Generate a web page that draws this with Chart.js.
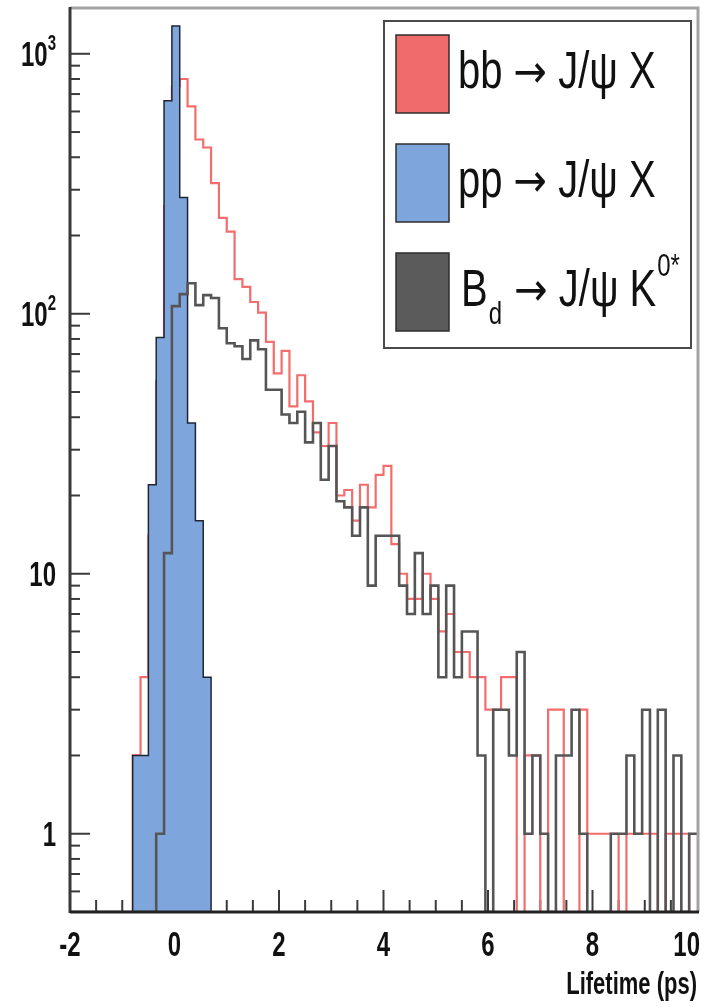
<!DOCTYPE html>
<html>
<head>
<meta charset="utf-8">
<script src="https://cdn.jsdelivr.net/npm/chart.js@4.4.1/dist/chart.umd.min.js"></script>
<style>
  html, body { margin: 0; padding: 0; background: #fff; }
  #wrap { width: 714px; height: 1007px; position: relative; }
</style>
</head>
<body>
<div id="wrap"><canvas id="chart"></canvas></div>
<script>
// lifetime histograms, 80 bins of 0.15 ps between -2 and 10 ps
const binLow = -2
const binWidth = 0.15
const yMin = 0.5
const yMax = 1500

const bbJpsiX = [
  0, 0, 0, 0, 0, 0, 0, 0, 2, 4,
  14, 55, 260, 750, 800, 628, 468, 436, 318, 234,
  207, 136, 127, 111, 101, 78, 59, 72, 44, 58,
  46, 35, 31, 38, 20, 21, 16, 22, 18, 24,
  26, 13, 10, 8, 8, 10, 8, 6, 7, 5,
  5, 4, 4, 3, 3, 4, 4, 0, 2, 2,
  0, 3, 3, 0, 0, 3, 1, 1, 1, 1,
  0, 1, 1, 1, 1, 0, 1, 1, 1, 0,
]

const ppJpsiX = [
  0, 0, 0, 0, 0, 0, 0, 0, 2, 2,
  22, 81, 660, 1280, 280, 38, 16, 4, 0, 0,
  0, 0, 0, 0, 0, 0, 0, 0, 0, 0,
  0, 0, 0, 0, 0, 0, 0, 0, 0, 0,
  0, 0, 0, 0, 0, 0, 0, 0, 0, 0,
  0, 0, 0, 0, 0, 0, 0, 0, 0, 0,
  0, 0, 0, 0, 0, 0, 0, 0, 0, 0,
  0, 0, 0, 0, 0, 0, 0, 0, 0, 0,
]

const bdJpsiK = [
  0, 0, 0, 0, 0, 0, 0, 0, 0, 0,
  0, 1, 12, 107, 119, 131, 108, 118, 115, 88,
  77, 75, 67, 79, 73, 51, 51, 41, 38, 42,
  32, 38, 23, 31, 19, 18, 14, 18, 9, 14,
  14, 14, 9, 7, 12, 7, 9, 4, 9, 4,
  6, 6, 2, 0, 3, 3, 2, 5, 1, 2,
  1, 0, 2, 2, 3, 1, 0, 0, 0, 1,
  1, 2, 1, 3, 0, 3, 0, 2, 0, 1,
]

const seriesNames = ['bb → J/ψ X', 'pp → J/ψ X', 'Bd → J/ψ K0*']
// legend pieces: plain text, subscript (sub) and superscript (sup)
const legendParts = [
  [{ t: 'bb' }, { t: ' → ' }, { t: 'J/ψ X' }],
  [{ t: 'pp' }, { t: ' → ' }, { t: 'J/ψ X' }],
  [{ t: 'B' }, { t: 'd', sub: true }, { t: ' → ' }, { t: 'J/ψ K' }, { t: '0*', sup: true }],
]
// decade labels: mantissa text and exponent text
const yLabels = [
  { v: 1, base: '1', exp: '' },
  { v: 10, base: '10', exp: '' },
  { v: 100, base: '10', exp: '2' },
  { v: 1000, base: '10', exp: '3' },
]
const xTitle = 'Lifetime (ps)'

// step outline: each point holds its bin value until the next edge.
// empty bins sit on the floor of the log axis, like ROOT draws them
function histPoints(counts) {
  const pts = counts.map((c, i) => ({ x: binLow + i * binWidth, y: c > 0 ? c : yMin }))
  pts.push({ x: binLow + counts.length * binWidth, y: pts[pts.length - 1].y })
  return pts
}

// the picture's lettering is tall and narrow, so text gets a vertical stretch
function tallText(ctx, str, x, y, font, align, sy) {
  ctx.save()
  ctx.translate(x, y)
  ctx.scale(1, sy)
  ctx.font = font
  ctx.textAlign = align
  ctx.textBaseline = 'alphabetic'
  ctx.fillText(str, 0, 0)
  const w = ctx.measureText(str).width
  ctx.restore()
  return w
}

function line(ctx, x1, y1, x2, y2) {
  ctx.beginPath()
  ctx.moveTo(x1, y1)
  ctx.lineTo(x2, y2)
  ctx.stroke()
}

const legFont = '40px "Liberation Sans", Arial, sans-serif'
const arrowFont = '40px "DejaVu Sans", sans-serif'
const smallFont = '24px "Liberation Sans", Arial, sans-serif'

function legendLabel(ctx, parts, x, base) {
  parts.forEach((p) => {
    if (p.sub) {
      x += tallText(ctx, p.t, x + 1, base + 18, smallFont, 'left', 1.28) + 2
    } else if (p.sup) {
      x += tallText(ctx, p.t, x + 1, base - 30, smallFont, 'left', 1.28)
    } else if (p.t === ' → ') {
      x += tallText(ctx, ' ', x, base, legFont, 'left', 1.28)
      x += tallText(ctx, '→', x, base - 1, arrowFont, 'left', 1.15)
      x += tallText(ctx, ' ', x, base, legFont, 'left', 1.28)
    } else {
      x += tallText(ctx, p.t, x, base, legFont, 'left', 1.28)
    }
  })
}

const rootFrame = {
  id: 'rootFrame',
  beforeDatasetsDraw(chart) {
    // ticks point inwards and sit under the histograms
    const { ctx, chartArea: a } = chart
    const xs = chart.scales.x
    const ys = chart.scales.y
    ctx.save()
    ctx.lineWidth = 2
    ctx.strokeStyle = '#3a3a3a'
    xs.ticks.forEach((t) => {
      if (t.value <= xs.min || t.value >= xs.max) return
      const px = xs.getPixelForValue(t.value)
      const major = Math.abs(t.value % 2) < 1e-9
      line(ctx, px, a.bottom, px, a.bottom - (major ? 22 : 12))
    })
    ys.ticks.forEach((t) => {
      const v = t.value
      if (v <= ys.min || v >= ys.max) return
      const e = Math.floor(Math.log10(v) + 1e-9)
      const m = v / Math.pow(10, e)
      if (Math.abs(m - Math.round(m)) > 1e-6) return
      const py = ys.getPixelForValue(v)
      line(ctx, a.left, py, a.left + (Math.round(m) === 1 ? 20 : 10), py)
    })
    ctx.restore()
  },
  afterDraw(chart) {
    const { ctx, chartArea: a } = chart
    const xs = chart.scales.x
    const ys = chart.scales.y
    ctx.save()
    ctx.lineCap = 'butt'

    // frame: light top/right, dark axes
    ctx.strokeStyle = '#a3a3a3'
    ctx.lineWidth = 3
    ctx.beginPath()
    ctx.moveTo(a.left, a.top)
    ctx.lineTo(a.right + 1, a.top)
    ctx.lineTo(a.right + 1, a.bottom)
    ctx.stroke()
    ctx.strokeStyle = '#383838'
    line(ctx, a.left, a.top - 1, a.left, a.bottom + 1)
    ctx.strokeStyle = '#222'
    line(ctx, a.left, a.bottom, a.right + 2, a.bottom)

    // tick labels
    ctx.fillStyle = '#111'
    const tickFont = 'bold 24px "Liberation Sans", Arial, sans-serif'
    const expFont = 'bold 15px "Liberation Sans", Arial, sans-serif'
    yLabels.forEach((l) => {
      const py = ys.getPixelForValue(l.v)
      ctx.font = expFont
      const ew = l.exp ? ctx.measureText(l.exp).width : 0
      tallText(ctx, l.base, 56 - ew, py + 12, tickFont, 'right', 1.45)
      if (l.exp) tallText(ctx, l.exp, 56 - ew, py - 4, expFont, 'left', 1.45)
    })
    xs.ticks.forEach((t) => {
      if (Math.abs(t.value % 2) > 1e-9) return
      const px = xs.getPixelForValue(t.value)
      const str = String(t.value)
      ctx.font = tickFont
      const w = ctx.measureText(str).width
      if (px + w / 2 > a.right) tallText(ctx, str, a.right + 3, 956, tickFont, 'right', 1.45)
      else tallText(ctx, str, px, 956, tickFont, 'center', 1.45)
    })
    tallText(ctx, xTitle, a.right, 994, 'bold 22px "Liberation Sans", Arial, sans-serif', 'right', 1.45)

    // legend box in the top right corner
    const lx = 384, ly = 21, lw = 307, lh = 327
    ctx.fillStyle = '#fff'
    ctx.fillRect(lx, ly, lw, lh)
    ctx.strokeStyle = '#4a4a4a'
    ctx.lineWidth = 2
    ctx.strokeRect(lx, ly, lw, lh)
    chart.data.datasets.forEach((ds, i) => {
      const top = 35 + i * 109
      ctx.fillStyle = ds.backgroundColor
      ctx.fillRect(396, top, 53, 78)
      ctx.strokeStyle = '#2e2e2e'
      ctx.lineWidth = 1.5
      ctx.strokeRect(396, top, 53, 78)
      ctx.fillStyle = '#111'
      legendLabel(ctx, legendParts[i], i < 2 ? 458 : 461, top + 53)
    })
    ctx.restore()
  },
}

const chart = new Chart(document.getElementById('chart'), {
  type: 'line',
  data: {
    datasets: [
      {
        label: seriesNames[0],
        data: histPoints(bbJpsiX),
        stepped: true,
        borderColor: '#f36d6d',
        backgroundColor: '#f06c6c',
        borderWidth: 2.2,
        fill: false,
        pointRadius: 0,
        order: 2,
      },
      {
        label: seriesNames[1],
        data: histPoints(ppJpsiX),
        stepped: true,
        borderColor: '#1f2633',
        backgroundColor: '#7fa6dc',
        borderWidth: 1.5,
        fill: 'start',
        pointRadius: 0,
        order: 1,
      },
      {
        label: seriesNames[2],
        data: histPoints(bdJpsiK),
        stepped: true,
        borderColor: '#555555',
        backgroundColor: '#5b5b5b',
        borderWidth: 2.6,
        fill: false,
        pointRadius: 0,
        order: 0,
      },
    ],
  },
  options: {
    animation: false,
    responsive: true,
    maintainAspectRatio: false,
    devicePixelRatio: 1,
    events: [],
    layout: { padding: { top: 8, right: 17, bottom: 0, left: 0 } },
    plugins: { legend: { display: false }, tooltip: { enabled: false } },
    scales: {
      x: {
        type: 'linear',
        min: -2,
        max: 10,
        ticks: { display: false, stepSize: 0.5, autoSkip: false },
        grid: { display: false, drawTicks: false },
        border: { display: false },
        afterFit: (s) => { s.height = 95 },
      },
      y: {
        type: 'logarithmic',
        min: yMin,
        max: yMax,
        ticks: { display: false, autoSkip: false },
        grid: { display: false, drawTicks: false },
        border: { display: false },
        afterFit: (s) => { s.width = 70 },
      },
    },
  },
  plugins: [rootFrame],
})
</script>
</body>
</html>
